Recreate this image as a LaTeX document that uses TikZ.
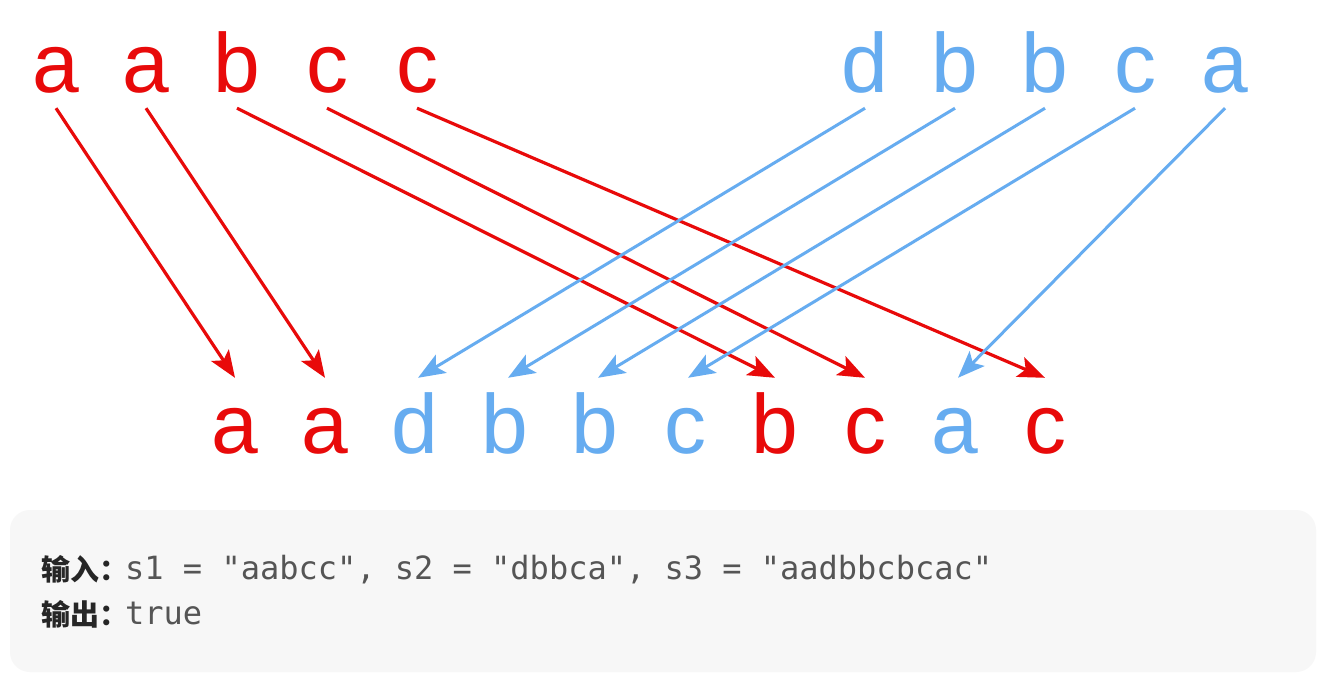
\documentclass[tikz,border=0pt]{standalone}
\usepackage{fontspec}
\setmainfont{Liberation Sans}
\setmonofont{DejaVu Sans Mono}
\newfontfamily\cjk{Noto Sans CJK SC}
\usetikzlibrary{arrows.meta}
\definecolor{sred}{RGB}{232,10,10}
\definecolor{sblue}{RGB}{102,172,240}
\definecolor{boxbg}{RGB}{247,247,247}
\definecolor{lbl}{RGB}{38,38,38}
\definecolor{codec}{RGB}{85,85,85}
\begin{document}
\begin{tikzpicture}[x=1pt,y=-1pt,
  letter/.style={anchor=base,inner xsep=0pt,inner ysep=15pt,text height=60pt,text depth=0pt,font=\fontsize{84}{84}\selectfont},
  redl/.style={letter,text=sred},
  bluel/.style={letter,text=sblue},
  redarr/.style={draw=sred,line width=3.2pt,-{Stealth[length=27pt,width=21pt,inset=6pt]}},
  bluearr/.style={draw=sblue,line width=3pt,-{Stealth[length=27pt,width=21pt,inset=6pt]}},
  lab/.style={anchor=base west,inner sep=0pt,text=lbl,font=\cjk\bfseries\fontsize{29}{35}\selectfont},
  code/.style={anchor=base west,inner sep=0pt,text=codec,font=\ttfamily\fontsize{32}{38}\selectfont}]
\path[use as bounding box,fill=white] (0,0) rectangle (1338,687);
% top row s1
\node[redl] (t1) at (56,93) {a};
\node[redl] (t2) at (146,93) {a};
\node[redl] (t3) at (237,93) {b};
\node[redl] (t4) at (327,93) {c};
\node[redl] (t5) at (417,93) {c};
% top row s2
\node[bluel] (u1) at (865,93) {d};
\node[bluel] (u2) at (955,93) {b};
\node[bluel] (u3) at (1045,93) {b};
\node[bluel] (u4) at (1135,93) {c};
\node[bluel] (u5) at (1225,93) {a};
% bottom row s3
\node[redl] (b1) at (235,453) {a};
\node[redl] (b2) at (325,453) {a};
\node[bluel] (b3) at (415,453) {d};
\node[bluel] (b4) at (505,453) {b};
\node[bluel] (b5) at (595,453) {b};
\node[bluel] (b6) at (685,453) {c};
\node[redl] (b7) at (775,453) {b};
\node[redl] (b8) at (865,453) {c};
\node[bluel] (b9) at (955,453) {a};
\node[redl] (b10) at (1045,453) {c};
% arrows s1
\draw[redarr] (t1.south) -- (b1.north);
\draw[redarr] (t2.south) -- (b2.north);
\draw[redarr] (t3.south) -- (b7.north);
\draw[redarr] (t4.south) -- (b8.north);
\draw[redarr] (t5.south) -- (b10.north);
% arrows s2
\draw[bluearr] (u1.south) -- ([xshift=3pt]b3.north);
\draw[bluearr] (u2.south) -- ([xshift=3pt]b4.north);
\draw[bluearr] (u3.south) -- ([xshift=3pt]b5.north);
\draw[bluearr] (u4.south) -- ([xshift=3pt]b6.north);
\draw[bluearr] (u5.south) -- ([xshift=3pt]b9.north);
% example box
\fill[boxbg,rounded corners=20pt] (10,510) rectangle (1316,672);
\node[lab] (l1) at (41,580) {输入：};
\node[code] (c1) at (125,579) {s1 = "aabcc", s2 = "dbbca", s3 = "aadbbcbcac"};
\node[lab] (l2) at (41,625) {输出：};
\node[code] (c2) at (125,624) {true};
\end{tikzpicture}
\end{document}
